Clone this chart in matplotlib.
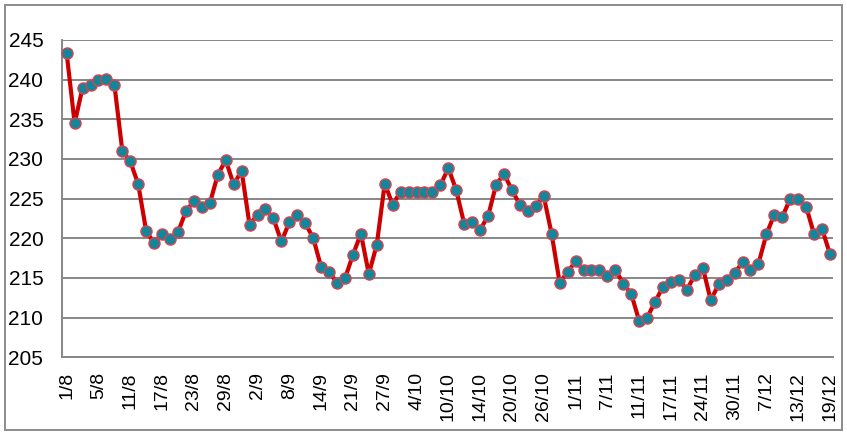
import matplotlib.pyplot as plt
from matplotlib.patches import Rectangle
import numpy as np

# daily values (97 trading days)
values = [243.3, 234.5, 239.0, 239.3, 240.0, 240.1, 239.35, 231.0, 229.7, 226.8,
          220.9, 219.4, 220.5, 219.9, 220.8, 223.4, 224.7, 223.9, 224.4, 228.0,
          229.85, 226.8, 228.5, 221.7, 223.0, 223.7, 222.5, 219.6, 222.0, 222.9,
          221.9, 220.05, 216.4, 215.75, 214.4, 214.95, 217.9, 220.6, 215.5, 219.2,
          226.9, 224.25, 225.9, 225.9, 225.85, 225.85, 225.9, 226.7, 228.85, 226.05,
          221.8, 222.1, 221.1, 222.8, 226.75, 228.1, 226.1, 224.2, 223.4, 224.05,
          225.3, 220.5, 214.4, 215.75, 217.1, 216.0, 216.0, 216.0, 215.3, 216.05,
          214.3, 213.0, 209.6, 210.0, 212.0, 213.9, 214.5, 214.8, 213.5, 215.4,
          216.3, 212.2, 214.2, 214.8, 215.6, 217.0, 216.0, 216.8, 220.5, 223.0,
          222.7, 225.0, 224.9, 224.0, 220.5, 221.2, 218.0]
tick_labels = ['1/8', '5/8', '11/8', '17/8', '23/8', '29/8', '2/9', '8/9', '14/9',
               '21/9', '27/9', '4/10', '10/10', '14/10', '20/10', '26/10', '1/11',
               '7/11', '11/11', '17/11', '24/11', '30/11', '7/12', '13/12', '19/12']
y_ticks = [205, 210, 215, 220, 225, 230, 235, 240, 245]

plt.rcParams['font.family'] = ['Liberation Sans', 'DejaVu Sans']

fig = plt.figure(figsize=(8.47, 4.38), dpi=100)
# outer border of the chart
fig.add_artist(Rectangle((5/847, 8/438), 836.5/847, 425/438, transform=fig.transFigure,
                         fill=False, edgecolor='#8c8c8c', linewidth=1.4))

ax = fig.add_axes([0.0732, 0.1842, 0.9103, 0.7245])
x = np.arange(len(values))
ax.plot(x, values, color='#cc0000', linewidth=3.0, marker='o', markersize=8,
        markerfacecolor='#12879c', markeredgecolor='#d9434f', markeredgewidth=1.0,
        clip_on=False, zorder=3)

ax.set_xlim(-0.59, 96.38)
ax.set_ylim(205, 245)
ax.set_yticks(y_ticks)
ax.set_xticks(x[::4])
ax.set_xticklabels(tick_labels, rotation=90, ha='center', va='top')
ax.tick_params(axis='x', length=0, pad=10.8, labelsize=14)
ax.tick_params(axis='y', length=0, pad=13.5, labelsize=15)

ax.grid(axis='y', color='#878787', linewidth=1.4)
ax.set_axisbelow(True)
for s in ['top', 'right']:
    ax.spines[s].set_visible(False)
for s in ['left', 'bottom']:
    ax.spines[s].set_color('#878787')
    ax.spines[s].set_linewidth(1.4)

plt.savefig('out.png', dpi=100)
